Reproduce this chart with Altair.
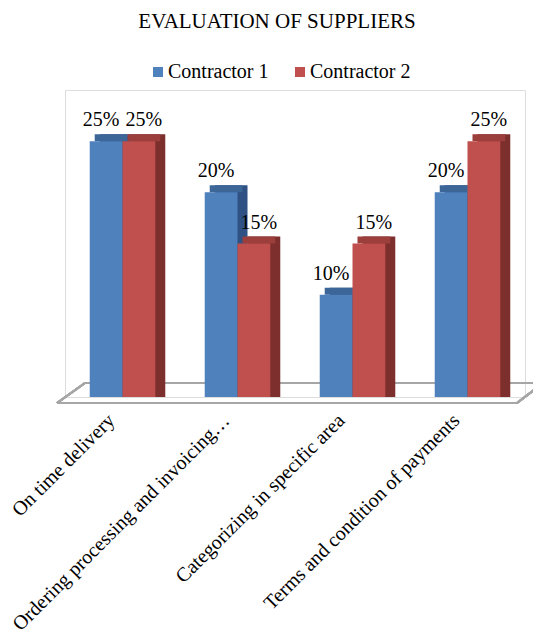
import altair as alt
import pandas as pd

categories = ["On time delivery", "Ordering processing and invoicing…",
              "Categorizing in specific area", "Terms and condition of payments"]
series = ["Contractor 1", "Contractor 2"]
contractor1 = [0.25, 0.20, 0.10, 0.20]
contractor2 = [0.25, 0.15, 0.15, 0.25]

rows = []
for i, c in enumerate(categories):
    rows.append({"category": c, "series": series[0], "value": contractor1[i]})
    rows.append({"category": c, "series": series[1], "value": contractor2[i]})
df = pd.DataFrame(rows)

FONT = "Liberation Serif, Times New Roman, serif"
front_colors = ["#4f81bd", "#c0504d"]
top_colors = ["#3d6698", "#9c3e3b"]
side_colors = ["#2f5183", "#7c2f2d"]

BAND = 115 * 0.57

x_enc = alt.X("category:N", sort=categories,
              scale=alt.Scale(paddingInner=0.43, paddingOuter=0.215),
              axis=alt.Axis(title=None, labelAngle=-45, labelAlign="right",
                            labelBaseline="middle", labelFontSize=20, labelFont=FONT,
                            labelColor="#000000", ticks=False, domain=False,
                            labelPadding=20, labelOffset=-11, labelLimit=400))


def xoff(shift=None):
    if shift is None:
        return alt.XOffset("series:N", sort=series,
                           scale=alt.Scale(type="band", domain=series,
                                           paddingInner=0, paddingOuter=0))
    return alt.XOffset("series:N", sort=series,
                       scale=alt.Scale(type="band", domain=series, paddingInner=0,
                                       paddingOuter=0, range=[shift, shift + BAND]))


y_enc = alt.Y("value:Q", stack=None, scale=alt.Scale(domain=[0, 0.3]), axis=None)

base = alt.Chart(df)

side = base.mark_bar(yOffset=-7, y2Offset=-7).encode(
    x=x_enc, xOffset=xoff(10), y=y_enc,
    color=alt.Color("series:N", scale=alt.Scale(domain=series, range=side_colors), legend=None))

top = base.mark_bar(yOffset=-7, y2Offset=0).encode(
    x=x_enc, xOffset=xoff(5), y=y_enc, y2=alt.Y2("value:Q"),
    color=alt.Color("series:N", scale=alt.Scale(domain=series, range=top_colors), legend=None))

front = base.mark_bar().encode(
    x=x_enc, xOffset=xoff(), y=y_enc,
    color=alt.Color("series:N", scale=alt.Scale(domain=series, range=front_colors),
                    legend=alt.Legend(title=None, orient="none", direction="horizontal",
                                      legendX=83, legendY=-28, symbolType="square",
                                      symbolSize=100, symbolStrokeWidth=0,
                                      labelFontSize=20, labelFont=FONT, labelColor="#000000",
                                      labelOffset=0, columnPadding=21, padding=0)))

labels_1 = base.transform_filter(alt.datum.series == series[0]).mark_text(
    fontSize=20, font=FONT, color="#000000", baseline="alphabetic", dy=-15, dx=-5).encode(
    x=x_enc, xOffset=xoff(), y=y_enc, text=alt.Text("value:Q", format=".0%"))
labels_2 = base.transform_filter(alt.datum.series == series[1]).mark_text(
    fontSize=20, font=FONT, color="#000000", baseline="alphabetic", dy=-15, dx=5).encode(
    x=x_enc, xOffset=xoff(), y=y_enc, text=alt.Text("value:Q", format=".0%"))

floor_color = "#a6a6a6"
floor_bottom = alt.Chart(df).mark_rule(color=floor_color, strokeWidth=2).encode(
    x=alt.value(-8), x2=alt.value(452), y=alt.value(313), y2=alt.value(313))
floor_top = alt.Chart(df).mark_rule(color=floor_color, strokeWidth=2).encode(
    x=alt.value(20), x2=alt.value(478), y=alt.value(293), y2=alt.value(293))
floor_left = alt.Chart(df).mark_rule(color=floor_color, strokeWidth=2).encode(
    x=alt.value(-8), x2=alt.value(20), y=alt.value(313), y2=alt.value(293))
floor_right = alt.Chart(df).mark_rule(color=floor_color, strokeWidth=2).encode(
    x=alt.value(452), x2=alt.value(478), y=alt.value(313), y2=alt.value(293))

chart = alt.layer(floor_bottom, floor_top, floor_left, floor_right,
                  side, top, front, labels_1, labels_2).resolve_scale(
    color="independent", xOffset="independent").properties(
    width=460, height=307,
    title=alt.TitleParams("EVALUATION OF SUPPLIERS", fontSize=21, font=FONT,
                          fontWeight="normal", color="#000000", anchor="middle",
                          dx=-18, offset=30),
    autosize=alt.AutoSizeParams(type="none"),
    padding={"left": 57, "top": 82, "right": 8, "bottom": 234},
).configure_view(stroke=None).configure(background="#ffffff")

chart.save("out.html", embed_options={"renderer": "svg", "actions": False})
